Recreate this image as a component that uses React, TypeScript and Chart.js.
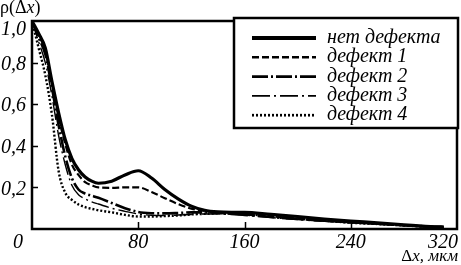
import React, { useEffect, useRef } from 'react';
import { Chart, registerables } from 'chart.js';

Chart.register(...registerables);

// ---- data ----
const xValues = [0, 5, 10, 15, 20, 25, 30, 35, 40, 45, 50, 60, 70, 80, 90, 100, 110, 120, 130, 140, 150, 160, 180, 200, 220, 240, 260, 280, 300, 310];

const noDefect = [1.0, 0.94, 0.87, 0.71, 0.56, 0.43, 0.34, 0.285, 0.25, 0.23, 0.22, 0.23, 0.26, 0.28, 0.245, 0.19, 0.145, 0.11, 0.09, 0.082, 0.08, 0.08, 0.07, 0.06, 0.048, 0.038, 0.03, 0.02, 0.012, 0.01];
const defect1 = [1.0, 0.93, 0.86, 0.7, 0.54, 0.41, 0.31, 0.26, 0.225, 0.21, 0.2, 0.198, 0.2, 0.2, 0.178, 0.148, 0.12, 0.098, 0.087, 0.078, 0.073, 0.07, 0.06, 0.05, 0.04, 0.032, 0.025, 0.018, 0.01, 0.008];
const defect2 = [1.0, 0.92, 0.84, 0.68, 0.5, 0.35, 0.245, 0.19, 0.17, 0.16, 0.15, 0.125, 0.1, 0.082, 0.076, 0.075, 0.077, 0.08, 0.08, 0.078, 0.075, 0.07, 0.058, 0.048, 0.04, 0.032, 0.025, 0.018, 0.012, 0.01];
const defect3 = [1.0, 0.9, 0.8, 0.64, 0.45, 0.31, 0.21, 0.165, 0.145, 0.13, 0.12, 0.1, 0.085, 0.072, 0.066, 0.065, 0.067, 0.07, 0.072, 0.072, 0.07, 0.065, 0.055, 0.045, 0.037, 0.03, 0.023, 0.016, 0.01, 0.008];
const defect4 = [1.0, 0.87, 0.74, 0.55, 0.28, 0.175, 0.14, 0.118, 0.105, 0.097, 0.09, 0.08, 0.068, 0.06, 0.06, 0.062, 0.065, 0.07, 0.073, 0.075, 0.075, 0.072, 0.062, 0.05, 0.04, 0.03, 0.024, 0.017, 0.01, 0.008];

const seriesLabels = ['нет дефекта', 'дефект 1', 'дефект 2', 'дефект 3', 'дефект 4'];
const seriesValues = [noDefect, defect1, defect2, defect3, defect4];

const yTicks = [0.2, 0.4, 0.6, 0.8, 1.0];
const yTickLabels = ['0,2', '0,4', '0,6', '0,8', '1,0'];
const xTicks = [0, 80, 160, 240, 320];
const xTickLabels = ['0', '80', '160', '240', '320'];

const lineStyles = [
  { width: 3.2, dash: [] as number[] },
  { width: 2.2, dash: [7, 3] },
  { width: 2.6, dash: [16, 3, 2, 3] },
  { width: 1.4, dash: [18, 4, 2, 4] },
  { width: 2.4, dash: [2, 2] },
];

const SERIF = '"Liberation Serif", "Times New Roman", serif';

const decorPlugin = {
  id: 'decor',
  afterDatasetsDraw(chart: any) {
    const ctx: CanvasRenderingContext2D = chart.ctx;
    const { left, right, top, bottom } = chart.chartArea;
    const xs = chart.scales.x;
    const ys = chart.scales.y;
    ctx.save();
    ctx.setLineDash([]);
    ctx.strokeStyle = '#000';
    ctx.fillStyle = '#000';

    // frame
    ctx.lineWidth = 2.5;
    ctx.strokeRect(left, top, right - left, bottom - top);

    // inward ticks
    ctx.lineWidth = 1.5;
    ctx.beginPath();
    yTicks.slice(0, 4).forEach((v) => {
      const y = Math.round(ys.getPixelForValue(v)) + 0.5;
      ctx.moveTo(left, y);
      ctx.lineTo(left + 6, y);
    });
    xTicks.slice(1, 4).forEach((v) => {
      const x = Math.round(xs.getPixelForValue(v)) + 0.5;
      ctx.moveTo(x, bottom);
      ctx.lineTo(x, bottom - 7);
    });
    ctx.stroke();

    // y tick labels
    ctx.font = `italic 20px ${SERIF}`;
    ctx.textAlign = 'right';
    ctx.textBaseline = 'middle';
    yTicks.forEach((v, i) => {
      const y = ys.getPixelForValue(v) + (v === 1.0 ? 9 : 2);
      ctx.fillText(yTickLabels[i], 26, y);
    });

    // x tick labels
    ctx.textBaseline = 'middle';
    xTicks.forEach((v, i) => {
      const px = xs.getPixelForValue(v);
      if (i === 0) {
        ctx.textAlign = 'center';
        ctx.fillText(xTickLabels[i], 18, 243);
      } else if (i === xTicks.length - 1) {
        ctx.textAlign = 'right';
        ctx.fillText(xTickLabels[i], right + 1, 243);
      } else {
        ctx.textAlign = 'center';
        ctx.fillText(xTickLabels[i], px, 243);
      }
    });

    // x axis title: "Δx, мкм" right-aligned
    ctx.textBaseline = 'alphabetic';
    ctx.textAlign = 'left';
    const part1 = 'Δ';
    const part2 = 'x, мкм';
    ctx.font = `17px ${SERIF}`;
    const w1 = ctx.measureText(part1).width;
    ctx.font = `italic 17px ${SERIF}`;
    const w2 = ctx.measureText(part2).width;
    const tx = right + 1 - w1 - w2;
    ctx.font = `17px ${SERIF}`;
    ctx.fillText(part1, tx, 261);
    ctx.font = `italic 17px ${SERIF}`;
    ctx.fillText(part2, tx + w1, 261);

    // y axis title: ρ(Δx)
    const pieces: [string, boolean][] = [['ρ(Δ', false], ['x', true], [')', false]];
    let ax = 0;
    pieces.forEach(([t, it]) => {
      ctx.font = `${it ? 'italic ' : ''}18px ${SERIF}`;
      ctx.fillText(t, ax, 13);
      ax += ctx.measureText(t).width;
    });

    // legend
    const lx = 234, ly = 18, lw = 224, lh = 110;
    ctx.fillStyle = '#fff';
    ctx.fillRect(lx, ly, lw, lh);
    ctx.fillStyle = '#000';
    ctx.lineWidth = 2.5;
    ctx.strokeRect(lx, ly, lw, lh);
    ctx.font = `italic 20px ${SERIF}`;
    ctx.textAlign = 'left';
    ctx.textBaseline = 'alphabetic';
    chart.data.datasets.forEach((ds: any, i: number) => {
      const ry = 38 + i * 19.3;
      ctx.save();
      ctx.lineWidth = ds.borderWidth + (i === 0 ? 0.8 : 0.3);
      ctx.setLineDash(ds.borderDash || []);
      ctx.beginPath();
      ctx.moveTo(252, ry);
      ctx.lineTo(316, ry);
      ctx.stroke();
      ctx.restore();
      ctx.fillText(ds.label, 327, ry + 5);
    });

    ctx.restore();
  },
};

export default function App() {
  const canvasRef = useRef<HTMLCanvasElement | null>(null);

  useEffect(() => {
    document.body.style.margin = '0';
    const canvas = canvasRef.current;
    if (!canvas) return;
    const datasets = seriesValues.map((vals, i) => ({
      label: seriesLabels[i],
      data: xValues.map((x, j) => ({ x, y: vals[j] })),
      borderColor: '#000',
      backgroundColor: '#000',
      borderWidth: lineStyles[i].width,
      borderDash: lineStyles[i].dash,
      pointRadius: 0,
      fill: false,
      cubicInterpolationMode: 'monotone' as const,
    }));
    const chart = new Chart(canvas, {
      type: 'line',
      data: { datasets },
      options: {
        animation: false,
        responsive: false,
        devicePixelRatio: 1,
        layout: { padding: { left: 32, top: 21, right: 4, bottom: 36 } },
        plugins: { legend: { display: false }, tooltip: { enabled: false } },
        scales: {
          x: { type: 'linear', min: 0, max: 320, display: false },
          y: { type: 'linear', min: 0, max: 1.0, display: false },
        },
      },
      plugins: [decorPlugin],
    });
    return () => chart.destroy();
  }, []);

  return (
    <div style={{ position: 'absolute', left: 0, top: 0, width: 461, height: 265, background: '#fff' }}>
      <canvas ref={canvasRef} width={461} height={265} />
    </div>
  );
}
